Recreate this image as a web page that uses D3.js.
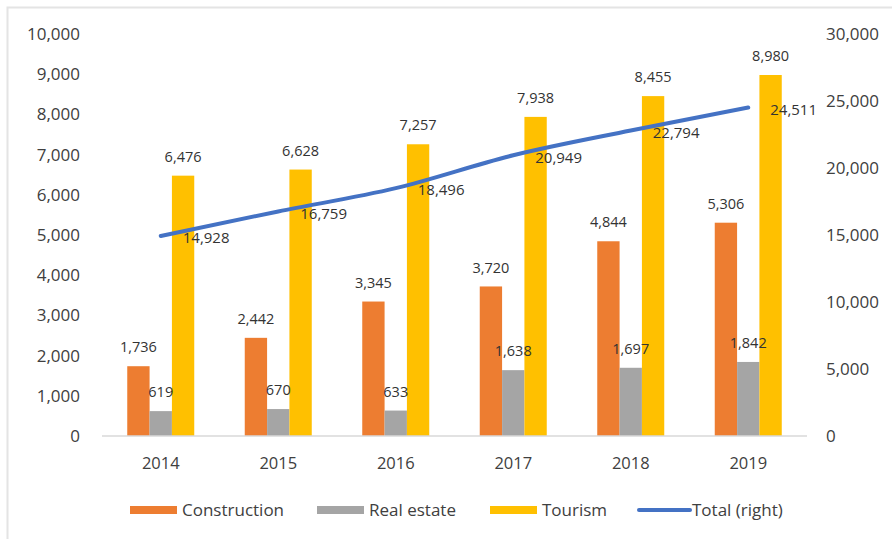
<!DOCTYPE html>
<html>
<head>
<meta charset="utf-8">
<script src="https://d3js.org/d3.v7.min.js"></script>
<style>
  body { margin: 0; background: #fff; }
  text { font-family: "Open Sans", sans-serif; }
</style>
</head>
<body>
<div id="chart"></div>
<script>
// data
var years = ["2014", "2015", "2016", "2017", "2018", "2019"];
var construction = [1736, 2442, 3345, 3720, 4844, 5306];
var realEstate = [619, 670, 633, 1638, 1697, 1842];
var tourism = [6476, 6628, 7257, 7938, 8455, 8980];
var total = [14928, 16759, 18496, 20949, 22794, 24511];
var leftTicks = [0, 1000, 2000, 3000, 4000, 5000, 6000, 7000, 8000, 9000, 10000];
var rightTicks = [0, 5000, 10000, 15000, 20000, 25000, 30000];

var series = [
  {name: "Construction", values: construction, color: "#ED7D31"},
  {name: "Real estate", values: realEstate, color: "#A5A5A5"},
  {name: "Tourism", values: tourism, color: "#FFC000"}
];

var W = 892, H = 539;
var fmt = d3.format(",");
var txt = "#404040";

var svg = d3.select("#chart").append("svg")
  .attr("width", W).attr("height", H);

// faint frame
svg.append("rect")
  .attr("x", 7.5).attr("y", 7.5).attr("width", 900).attr("height", 600)
  .attr("fill", "none").attr("stroke", "#e4e4e4").attr("stroke-width", 2);

var x = d3.scaleBand().domain(years).range([102, 807]);
// bars take about 67px of each 117px category, no gap between them
var x1 = d3.scaleBand().domain(series.map(s => s.name))
  .range([(x.bandwidth() - 67) / 2, (x.bandwidth() + 67) / 2]).padding(0);

var yL = d3.scaleLinear().domain([0, 10000]).range([436, 34]);
var yR = d3.scaleLinear().domain([0, 30000]).range([436, 34]);

// left axis labels
svg.append("g").selectAll("text").data(leftTicks).join("text")
  .attr("x", 80).attr("y", d => yL(d)).attr("dy", "0.35em")
  .attr("text-anchor", "end").attr("fill", txt).attr("font-size", 17)
  .text(d => fmt(d));

// right axis labels
svg.append("g").selectAll("text").data(rightTicks).join("text")
  .attr("x", 826).attr("y", d => yR(d)).attr("dy", "0.35em")
  .attr("text-anchor", "start").attr("fill", txt).attr("font-size", 17)
  .text(d => fmt(d));

// bars
series.forEach(function(s) {
  svg.append("g").selectAll("rect").data(s.values).join("rect")
    .attr("x", (d, i) => x(years[i]) + x1(s.name))
    .attr("width", x1.bandwidth())
    .attr("y", d => yL(d))
    .attr("height", d => yL(0) - yL(d))
    .attr("fill", s.color);
});

// baseline
svg.append("line")
  .attr("x1", 102).attr("x2", 807).attr("y1", yL(0)).attr("y2", yL(0))
  .attr("stroke", "#d9d9d9").attr("stroke-width", 1.5);

// year labels
svg.append("g").selectAll("text").data(years).join("text")
  .attr("x", d => x(d) + x.bandwidth() / 2).attr("y", 463).attr("dy", "0.35em")
  .attr("text-anchor", "middle").attr("fill", txt).attr("font-size", 16.5)
  .text(d => d);

// total line (right axis)
var line = d3.line()
  .x((d, i) => x(years[i]) + x.bandwidth() / 2)
  .y(d => yR(d))
  .curve(d3.curveMonotoneX);
svg.append("path").datum(total)
  .attr("d", line).attr("fill", "none")
  .attr("stroke", "#4472C4").attr("stroke-width", 4).attr("stroke-linecap", "round");

// bar value labels, drawn over all bars
series.forEach(function(s) {
  svg.append("g").selectAll("text").data(s.values).join("text")
    .attr("x", (d, i) => x(years[i]) + x1(s.name) + x1.bandwidth() / 2)
    .attr("y", d => yL(d) - 19).attr("dy", "0.35em")
    .attr("text-anchor", "middle").attr("fill", "#333").attr("font-size", 14.5)
    .text(d => fmt(d));
});

svg.append("g").selectAll("text").data(total).join("text")
  .attr("x", (d, i) => x(years[i]) + x.bandwidth() / 2 + 22)
  .attr("y", d => yR(d) + 2).attr("dy", "0.35em")
  .attr("text-anchor", "start").attr("fill", "#333").attr("font-size", 15)
  .text(d => fmt(d));

// legend
var legend = [
  {name: "Construction", color: "#ED7D31", type: "bar", x: 130},
  {name: "Real estate", color: "#A5A5A5", type: "bar", x: 317},
  {name: "Tourism", color: "#FFC000", type: "bar", x: 490},
  {name: "Total (right)", color: "#4472C4", type: "line", x: 638}
];
var lg = svg.append("g").selectAll("g").data(legend).join("g")
  .attr("transform", d => "translate(" + d.x + ",510)");
lg.filter(d => d.type === "bar").append("rect")
  .attr("x", 0).attr("y", -4).attr("width", 47).attr("height", 8)
  .attr("fill", d => d.color);
lg.filter(d => d.type === "line").append("line")
  .attr("x1", 1).attr("x2", 52).attr("y1", 0).attr("y2", 0)
  .attr("stroke", d => d.color).attr("stroke-width", 4).attr("stroke-linecap", "round");
lg.append("text")
  .attr("x", d => d.type === "line" ? 54 : 52).attr("y", 0).attr("dy", "0.35em")
  .attr("fill", txt).attr("font-size", 17)
  .text(d => d.name);
</script>
</body>
</html>
